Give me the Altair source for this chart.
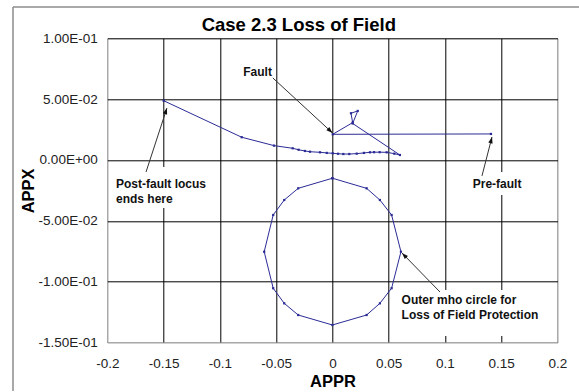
import math
import altair as alt
import pandas as pd

# ---------------- data ----------------
# Impedance locus (APPR, APPX) in time order: pre-fault -> fault -> post-fault
locus_r = [0.1409, 0.0003, 0.0180, 0.0165, 0.0225, 0.0180, 0.0600, 0.0550, 0.0482,
           0.0420, 0.0370, 0.0334, 0.0280, 0.0216, 0.0150, 0.0097, 0.0050, 0.0003,
           -0.0050, -0.0110, -0.0199, -0.0244, -0.0300, -0.0353, -0.0519, -0.0806, -0.1499]
locus_x = [0.0214, 0.0211, 0.0307, 0.0384, 0.0403, 0.0300, 0.0041, 0.0052, 0.0063,
           0.0064, 0.0064, 0.0063, 0.0058, 0.0052, 0.0049, 0.0049, 0.0051, 0.0055,
           0.0058, 0.0063, 0.0068, 0.0074, 0.0084, 0.0096, 0.0118, 0.0187, 0.0487]

# Outer mho circle (closed polygon)
mho_r = [0.0, 0.0304, 0.0422, 0.0526, 0.0609, 0.0526, 0.0422, 0.0304, 0.0,
         -0.0304, -0.0428, -0.0526, -0.0606, -0.0526, -0.0428, -0.0304, 0.0]
mho_x = [-0.0150, -0.0233, -0.0329, -0.0452, -0.0754, -0.1054, -0.1178, -0.1274, -0.1356,
         -0.1274, -0.1178, -0.1054, -0.0754, -0.0452, -0.0329, -0.0233, -0.0150]

# Axis ticks
x_ticks = [-0.2, -0.15, -0.1, -0.05, 0.0, 0.05, 0.1, 0.15, 0.2]
x_tick_labels = ["-0.2", "-0.15", "-0.1", "-0.05", "0", "0.05", "0.1", "0.15", "0.2"]
y_ticks = [0.1, 0.05, 0.0, -0.05, -0.1, -0.15]
y_tick_labels = ["1.00E-01", "5.00E-02", "0.00E+00", "-5.00E-02", "-1.00E-01", "-1.50E-01"]

# Annotations
ann_text = ["Fault", "Pre-fault", "Post-fault locus\nends here",
            "Outer mho circle for\nLoss of Field Protection"]
ann_x = [-0.0792, 0.1247, -0.1923, 0.0615]
ann_y = [0.0693, -0.0233, -0.0233, -0.1186]
# white text boxes behind annotations
box_x1 = [-0.0839, 0.1205, -0.1967, 0.0564]
box_x2 = [-0.0510, 0.1685, -0.1070, 0.1844]
box_y1 = [0.0805, -0.0099, -0.0058, -0.1068]
box_y2 = [0.0649, -0.0288, -0.0394, -0.1446]
# arrows: from text to target point
arr_x1 = [-0.0529, 0.1329, -0.1656, 0.0956]
arr_y1 = [0.0674, -0.0131, -0.0099, -0.1085]
arr_x2 = [0.0001, 0.1418, -0.1470, 0.0618]
arr_y2 = [0.0222, 0.0189, 0.0427, -0.0764]

# ---------------- layout ----------------
W, H = 450.2, 304.2
X_DOM = [-0.2, 0.2]
Y_DOM = [-0.15, 0.1]
FONT = "Liberation Sans"
LINE_COLOR = "#2b2b96"

locus_df = pd.DataFrame({"r": locus_r, "x": locus_x, "i": list(range(len(locus_r)))})
mho_df = pd.DataFrame({"r": mho_r, "x": mho_x, "i": list(range(len(mho_r)))})
ann_df = pd.DataFrame({"t": ann_text, "r": ann_x, "x": ann_y})
box_df = pd.DataFrame({"a": box_x1, "b": box_x2, "c": box_y1, "d": box_y2})

angles = []
for x1, y1, x2, y2 in zip(arr_x1, arr_y1, arr_x2, arr_y2):
    dxp = (x2 - x1) * W / (X_DOM[1] - X_DOM[0])
    dyp = -(y2 - y1) * H / (Y_DOM[1] - Y_DOM[0])
    angles.append((math.degrees(math.atan2(dxp, -dyp)) + 360) % 360)
arr_df = pd.DataFrame({"x1": arr_x1, "y1": arr_y1, "x2": arr_x2, "y2": arr_y2, "ang": angles})


def label_expr(vals, labs):
    expr = "''"
    for v, l in zip(vals, labs):
        expr = f"abs(datum.value - ({v})) < 1e-9 ? '{l}' : ({expr})"
    return expr


xs = alt.Scale(domain=X_DOM, nice=False, zero=False)
ys = alt.Scale(domain=Y_DOM, nice=False, zero=False)

x_axis = alt.Axis(
    values=x_ticks, labelExpr=label_expr(x_ticks, x_tick_labels), title="APPR",
    grid=True, gridColor={"condition": {"test": "abs(datum.value) > 0.19", "value": "#8c8c8c"}, "value": "#000000"},
    gridWidth=1, ticks=False, domain=False,
    labelFont=FONT, labelFontSize=13.5, labelColor="#222222", labelPadding=14,
    labelBaseline="top", labelFlush=False,
    titleFont=FONT, titleFontSize=16.5, titleFontWeight="bold", titleColor="#000000",
    titleBaseline="alphabetic", titleY=44.2, titleX=W / 2,
)
y_axis = alt.Axis(
    values=y_ticks, labelExpr=label_expr(y_ticks, y_tick_labels), title="APPX",
    grid=True, gridColor={"condition": {"test": "datum.value < -0.149", "value": "#8c8c8c"}, "value": "#000000"},
    gridWidth=1, ticks=False, domain=False,
    labelFont=FONT, labelFontSize=13.5, labelColor="#222222", labelPadding=10,
    labelFlush=False,
    titleFont=FONT, titleFontSize=16.5, titleFontWeight="bold", titleColor="#000000",
    titleAngle=-90, titleAlign="center", titleBaseline="alphabetic",
    titleX=-73.5, titleY=H / 2,
)

base_enc = dict(
    x=alt.X("r:Q", scale=xs, axis=x_axis),
    y=alt.Y("x:Q", scale=ys, axis=y_axis),
)

boxes = alt.Chart(box_df).mark_rect(fill="white", stroke=None).encode(
    x=alt.X("a:Q", scale=xs), x2="b:Q",
    y=alt.Y("c:Q", scale=ys), y2="d:Q",
)

locus_line = alt.Chart(locus_df).mark_line(color=LINE_COLOR, strokeWidth=1).encode(
    order="i:Q", **base_enc)
locus_pts = alt.Chart(locus_df).mark_square(color=LINE_COLOR, size=5, opacity=1).encode(
    x=alt.X("r:Q", scale=xs), y=alt.Y("x:Q", scale=ys))

mho_line = alt.Chart(mho_df).mark_line(color=LINE_COLOR, strokeWidth=1).encode(
    order="i:Q", x=alt.X("r:Q", scale=xs), y=alt.Y("x:Q", scale=ys))
mho_pts = alt.Chart(mho_df).mark_square(color=LINE_COLOR, size=5, opacity=1).encode(
    x=alt.X("r:Q", scale=xs), y=alt.Y("x:Q", scale=ys))

arrows = alt.Chart(arr_df).mark_rule(color="#333333", strokeWidth=1).encode(
    x=alt.X("x1:Q", scale=xs), y=alt.Y("y1:Q", scale=ys), x2="x2:Q", y2="y2:Q")
heads = alt.Chart(arr_df).mark_point(
    shape="M0,0L0.42,1.2L-0.42,1.2Z", filled=True, color="#111111", size=110, opacity=1
).encode(
    x=alt.X("x2:Q", scale=xs), y=alt.Y("y2:Q", scale=ys), angle=alt.Angle("ang:Q", scale=None))

labels = alt.Chart(ann_df).mark_text(
    align="left", baseline="alphabetic", font=FONT, fontSize=12, fontWeight="bold",
    color="#111111", lineBreak="\n", lineHeight=14.5
).encode(x=alt.X("r:Q", scale=xs), y=alt.Y("x:Q", scale=ys), text="t:N")

frame_df = pd.DataFrame({"k": [0]})
frame_left = alt.Chart(frame_df).mark_rule(color="#8c8c8c", strokeWidth=1.5).encode(
    x=alt.value(-94.3), y=alt.value(-31.3), y2=alt.value(400))
frame_top = alt.Chart(frame_df).mark_rule(color="#8c8c8c", strokeWidth=1.5).encode(
    x=alt.value(-94.3), x2=alt.value(500), y=alt.value(-31.3))

chart = alt.layer(
    locus_line, boxes, mho_line, locus_pts, mho_pts, arrows, heads, labels, frame_left, frame_top
).properties(
    width=W, height=H,
    title=alt.TitleParams("Case 2.3 Loss of Field", font=FONT, fontSize=18.5, fontWeight="bold",
                          color="#000000", anchor="middle", dx=-33.6, offset=3.7, dy=32,
                          frame="group"),
    autosize="none",
    padding={"left": 107.3, "top": 38.3, "right": 21.5, "bottom": 48.5},
).configure_view(
    stroke="#8c8c8c", strokeWidth=1, fill="white"
).configure(background="white")

chart.save("out.html", embed_options={"renderer": "svg", "actions": False})
